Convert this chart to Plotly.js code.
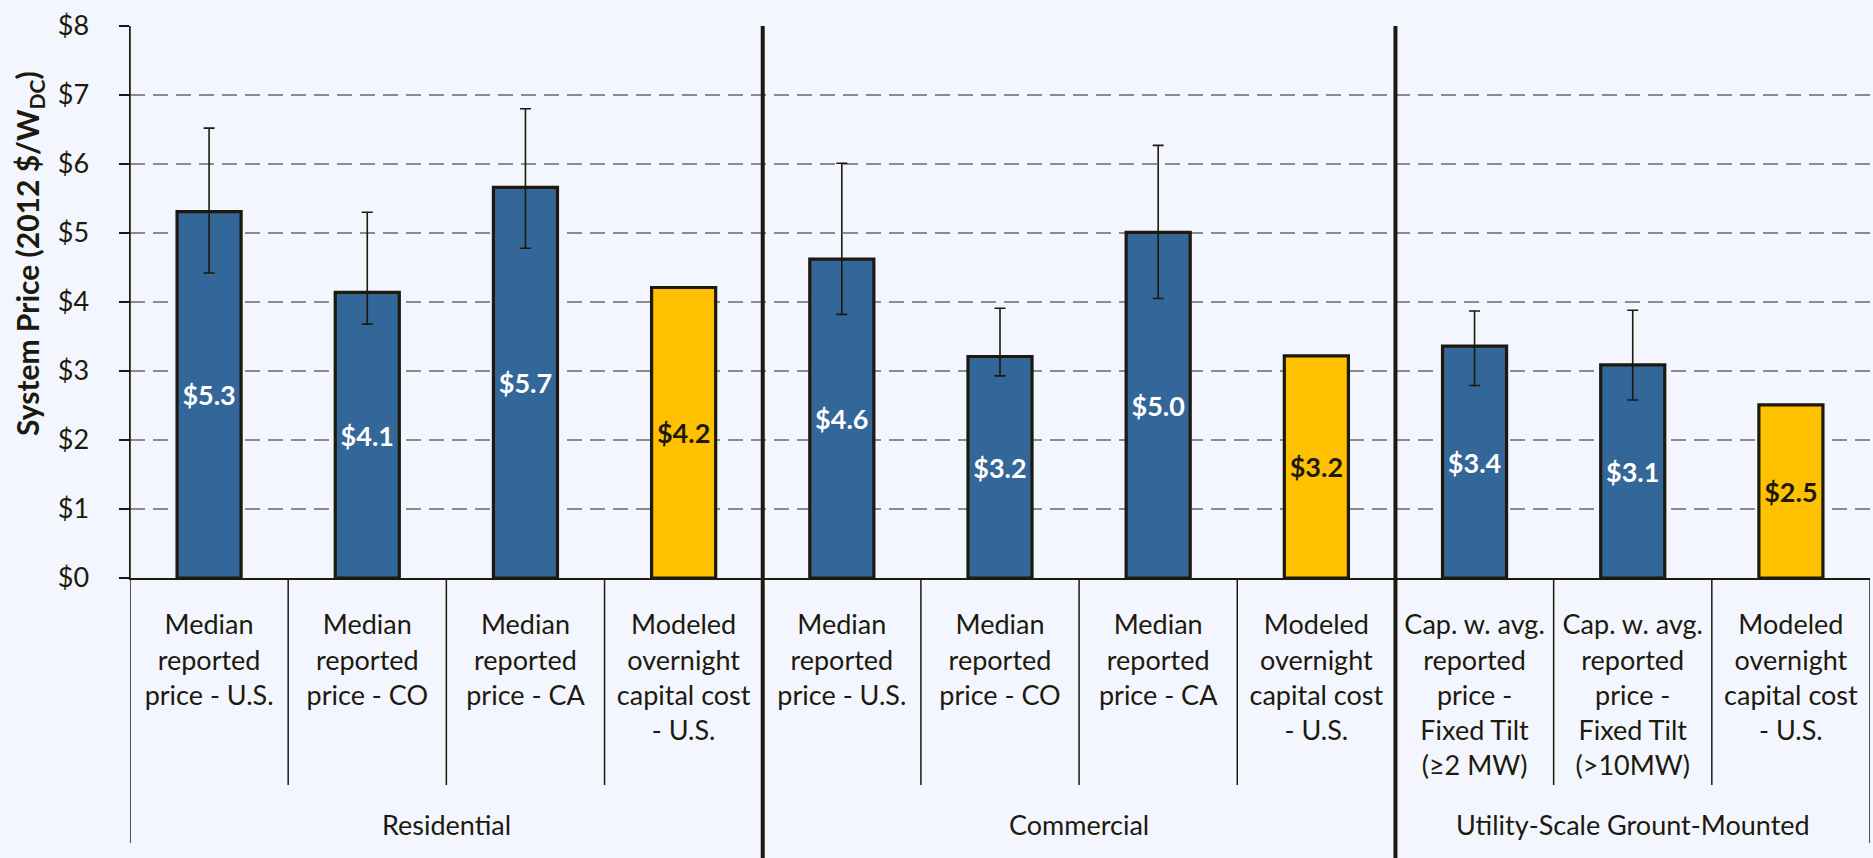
<!DOCTYPE html>
<html>
<head>
<meta charset="utf-8">
<script src="https://cdn.plot.ly/plotly-3.0.1.min.js"></script>
<style>
  html, body { margin: 0; padding: 0; background: #F3F6FE; }
  #chart { width: 1873px; height: 858px; }
</style>
</head>
<body>
<div id="chart"></div>
<script>
// ---- data ----
const groups = ["Residential", "Commercial", "Utility-Scale Grount-Mounted"];
const groupSizes = [4, 4, 3];
const categories = [
  "Median<br>reported<br>price - U.S.",
  "Median<br>reported<br>price - CO",
  "Median<br>reported<br>price - CA",
  "Modeled<br>overnight<br>capital cost<br>- U.S.",
  "Median<br>reported<br>price - U.S.",
  "Median<br>reported<br>price - CO",
  "Median<br>reported<br>price - CA",
  "Modeled<br>overnight<br>capital cost<br>- U.S.",
  "Cap. w. avg.<br>reported<br>price -<br>Fixed Tilt<br>(≥2 MW)",
  "Cap. w. avg.<br>reported<br>price -<br>Fixed Tilt<br>(>10MW)",
  "Modeled<br>overnight<br>capital cost<br>- U.S."
];
const kind = ["reported","reported","reported","modeled","reported","reported","reported","modeled","reported","reported","modeled"];
const values = [5.31, 4.14, 5.66, 4.21, 4.62, 3.21, 5.01, 3.22, 3.36, 3.09, 2.51];
const errHigh = [6.52, 5.30, 6.80, null, 6.01, 3.91, 6.27, null, 3.87, 3.88, null];
const errLow  = [4.42, 3.68, 4.78, null, 3.82, 2.93, 4.05, null, 2.79, 2.58, null];
const yTicks = [0, 1, 2, 3, 4, 5, 6, 7, 8];

// ---- styles ----
const BLUE = "#336699", GOLD = "#FFC000", INK = "#1d1a0d", BG = "#F3F6FE";
const FONT = "Lato, 'Open Sans', sans-serif";

const idx = categories.map((_, i) => i);
const pick = k => idx.filter(i => kind[i] === k);
const rep = pick("reported"), mod = pick("modeled");

const barCommon = {
  type: "bar",
  width: 0.405,
  textposition: "inside",
  insidetextanchor: "middle",
  textangle: 0,
  constraintext: "none",
  texttemplate: "<b>$%{y:.1f}</b>",
  hoverinfo: "skip",
  showlegend: false
};

const traceRep = Object.assign({}, barCommon, {
  x: rep,
  y: rep.map(i => values[i]),
  marker: { color: BLUE, line: { color: INK, width: 3.2 } },
  textfont: { family: FONT, size: 27, color: "#FFFFFF" },
  error_y: {
    type: "data", symmetric: false,
    array: rep.map(i => errHigh[i] - values[i]),
    arrayminus: rep.map(i => values[i] - errLow[i]),
    color: INK, thickness: 1.6, width: 5.5
  }
});
const traceMod = Object.assign({}, barCommon, {
  x: mod,
  y: mod.map(i => values[i]),
  marker: { color: GOLD, line: { color: INK, width: 3.2 } },
  textfont: { family: FONT, size: 27, color: INK }
});

// structural lines derived from category/group layout
const plotH = 552; // px of plot area height
const px = p => p / plotH; // convert pixel offset to paper units
const shapes = [];
const boundaries = [];
let acc = 0;
groupSizes.forEach((n, g) => { acc += n; if (g < groupSizes.length - 1) boundaries.push(acc - 0.5); });
// thin dividers between categories
for (let i = 0; i < categories.length - 1; i++) {
  const b = i + 0.5;
  if (boundaries.includes(b)) continue;
  shapes.push({ type: "line", xref: "x", yref: "paper", x0: b, x1: b, y0: 0, y1: -px(207),
                line: { color: INK, width: 1.5 } });
}
// thick group separators
boundaries.forEach(b => shapes.push({ type: "line", xref: "x", yref: "paper", x0: b, x1: b,
  y0: 1, y1: -px(290), line: { color: INK, width: 4 } }));
// left and right outer lines below axis
shapes.push({ type: "line", xref: "x", yref: "paper", x0: -0.5, x1: -0.5, y0: 1, y1: -px(265),
  line: { color: INK, width: 1.5 } });
shapes.push({ type: "line", xref: "x", yref: "paper", x0: categories.length - 0.5, x1: categories.length - 0.5,
  y0: 0, y1: -px(265), line: { color: INK, width: 1.5 } });

// group labels
const annotations = [];
let start = 0;
groups.forEach((g, k) => {
  const center = start + (groupSizes[k] - 1) / 2;
  annotations.push({ text: g, xref: "x", yref: "paper", x: center, y: -px(247),
    showarrow: false, xanchor: "center", yanchor: "middle",
    font: { family: FONT, size: 27, color: INK } });
  start += groupSizes[k];
});
// y axis title
annotations.push({
  text: "<b>System Price (2012 $/W<sub>DC</sub>)</b>",
  xref: "paper", yref: "paper", x: 0, xshift: -101, y: px(324),
  textangle: -90, showarrow: false, xanchor: "center", yanchor: "middle",
  font: { family: FONT, size: 30, color: INK }
});

const layout = {
  width: 1873, height: 858,
  margin: { l: 130, r: 3, t: 26, b: 280, pad: 0 },
  paper_bgcolor: BG, plot_bgcolor: BG,
  bargap: 0,
  xaxis: {
    range: [-0.5, categories.length - 0.5],
    tickmode: "array", tickvals: idx, ticktext: categories,
    ticks: "", ticklabelstandoff: 22,
    tickfont: { family: FONT, size: 27, color: INK },
    showgrid: false, zeroline: false,
    showline: true, linecolor: INK, linewidth: 2,
    fixedrange: true
  },
  yaxis: {
    range: [0, 8],
    tickmode: "array", tickvals: yTicks, ticktext: yTicks.map(v => "$" + v),
    ticks: "outside", ticklen: 10, tickwidth: 1.5, tickcolor: INK,
    ticklabelstandoff: 24,
    tickfont: { family: FONT, size: 27, color: INK },
    showgrid: true, gridcolor: "#8c8c8c", gridwidth: 2, griddash: "15px,8px",
    zeroline: false,
    showline: true, linecolor: INK, linewidth: 1.5,
    fixedrange: true
  },
  shapes: shapes,
  annotations: annotations
};

Plotly.newPlot("chart", [traceRep, traceMod], layout, { displayModeBar: false, staticPlot: true });
</script>
</body>
</html>
